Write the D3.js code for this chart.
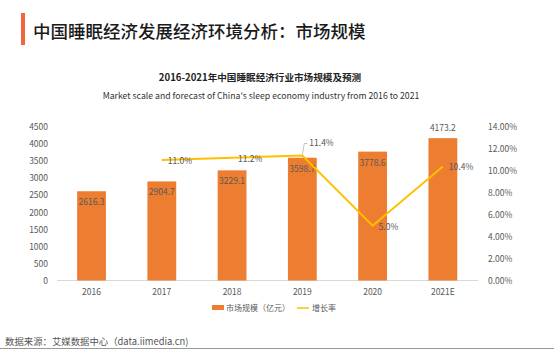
<!DOCTYPE html>
<html><head><meta charset="utf-8">
<script src="https://cdn.jsdelivr.net/npm/d3@7"></script>
<style>
html,body{margin:0;padding:0;background:#fff;}
svg{display:block;font-family:"Noto Sans CJK SC","Noto Sans",sans-serif;}
</style></head>
<body>
<script>
const categories = ["2016","2017","2018","2019","2020","2021E"];
const marketSize = [2616.3, 2904.7, 3229.1, 3598.7, 3778.6, 4173.2];
const growthRate = [null, 11.0, 11.2, 11.4, 5.0, 10.4];
const leftTicks = [0,500,1000,1500,2000,2500,3000,3500,4000,4500];
const rightTicks = [0,2,4,6,8,10,12,14];

const W = 554, H = 360;
const svg = d3.select("body").append("svg").attr("width", W).attr("height", H);

// Header
svg.append("rect").attr("x",21).attr("y",13).attr("width",4).attr("height",32).attr("fill","#F2673A");
svg.append("text").attr("x",33).attr("y",38).attr("font-size",17.5).attr("font-weight",500).attr("fill","#1a1a1a")
  .text("中国睡眠经济发展经济环境分析：市场规模");

svg.append("text").attr("x",260).attr("y",81).attr("text-anchor","middle").attr("font-size",9.6).attr("font-weight",700).attr("fill","#222")
  .text("2016-2021年中国睡眠经济行业市场规模及预测");
svg.append("text").attr("x",261).attr("y",98.5).attr("text-anchor","middle").attr("font-size",8.7).attr("fill","#333")
  .text("Market scale and forecast of China's sleep economy industry from 2016 to 2021");

// Scales
const x = d3.scaleBand().domain(categories).range([56.4, 478]).paddingInner(0.59).paddingOuter(0.295);
const y = d3.scaleLinear().domain([0,4500]).range([280.5,127]);
const y2 = d3.scaleLinear().domain([0,14]).range([280.5,127]);

// Left axis
const la = svg.append("g").attr("transform","translate(52,0)")
  .call(d3.axisLeft(y).tickValues(leftTicks).tickSize(0).tickPadding(4).tickFormat(d3.format("d")));
la.select(".domain").remove();
la.selectAll("text").attr("font-size",8.5).attr("fill","#595959").attr("font-family","'Noto Sans CJK SC',sans-serif");

// Right axis
const ra = svg.append("g").attr("transform","translate(484,0)")
  .call(d3.axisRight(y2).tickValues(rightTicks).tickSize(0).tickPadding(4).tickFormat(d=>d.toFixed(2)+"%"));
ra.select(".domain").remove();
ra.selectAll("text").attr("font-size",8.5).attr("fill","#595959").attr("font-family","'Noto Sans CJK SC',sans-serif");

// Bottom axis
const ba = svg.append("g").attr("transform","translate(0,280.5)")
  .call(d3.axisBottom(x).tickSize(0).tickPadding(8));
ba.select(".domain").attr("stroke","#d9d9d9").attr("d","M57,0H478");
ba.selectAll("text").attr("font-size",8.5).attr("fill","#595959").attr("font-family","'Noto Sans CJK SC',sans-serif");

// Bars
svg.append("g").selectAll("rect").data(marketSize).join("rect")
  .attr("x",(d,i)=>x(categories[i])).attr("width",x.bandwidth())
  .attr("y",d=>y(d)).attr("height",d=>y(0)-y(d)).attr("fill","#ED7D31");

// Bar labels
svg.append("g").selectAll("text").data(marketSize).join("text")
  .attr("x",(d,i)=>x(categories[i])+x.bandwidth()/2)
  .attr("y",(d,i)=> i===categories.length-1 ? y(d)-7 : y(d)+14)
  .attr("text-anchor","middle").attr("font-size",8.5).attr("fill","#595959")
  .text(d=>d.toFixed(1));

// Line
const pts = growthRate.map((v,i)=>({v,c:categories[i]})).filter(p=>p.v!==null);
const line = d3.line().x(p=>x(p.c)+x.bandwidth()/2).y(p=>y2(p.v));
svg.append("path").datum(pts).attr("d",line).attr("fill","none").attr("stroke","#FFC000").attr("stroke-width",2);

// Line labels
pts.forEach((p,idx)=>{
  const px = x(p.c)+x.bandwidth()/2, py = y2(p.v);
  if (p.c==="2019") {
    svg.append("path").attr("d",`M${px},${py-1}L${px+2},${py-12}H${px+5}`).attr("fill","none").attr("stroke","#a6a6a6").attr("stroke-width",0.7);
    svg.append("text").attr("x",px+7).attr("y",py-12).attr("dy","0.35em").attr("font-size",8.5).attr("fill","#595959").text(p.v.toFixed(1)+"%");
  } else {
    svg.append("text").attr("x",px+6).attr("y",py+1).attr("dy","0.35em").attr("font-size",8.5).attr("fill","#595959").text(p.v.toFixed(1)+"%");
  }
});

// Legend
svg.append("rect").attr("x",212).attr("y",305).attr("width",12).attr("height",5).attr("fill","#ED7D31");
svg.append("text").attr("x",226).attr("y",308).attr("dy","0.35em").attr("font-size",8).attr("fill","#595959").text("市场规模（亿元）");
svg.append("line").attr("x1",297).attr("x2",309).attr("y1",308).attr("y2",308).attr("stroke","#FFC000").attr("stroke-width",1.5);
svg.append("text").attr("x",312).attr("y",308).attr("dy","0.35em").attr("font-size",8).attr("fill","#595959").text("增长率");

// Source
svg.append("text").attr("x",5).attr("y",342).attr("dy","0.35em").attr("font-size",9.4).attr("fill","#555")
  .text("数据来源：艾媒数据中心（data.iimedia.cn)");
svg.append("line").attr("x1",0).attr("x2",554).attr("y1",348.5).attr("y2",348.5).attr("stroke","#999").attr("stroke-width",1.2);
</script>
</body></html>
